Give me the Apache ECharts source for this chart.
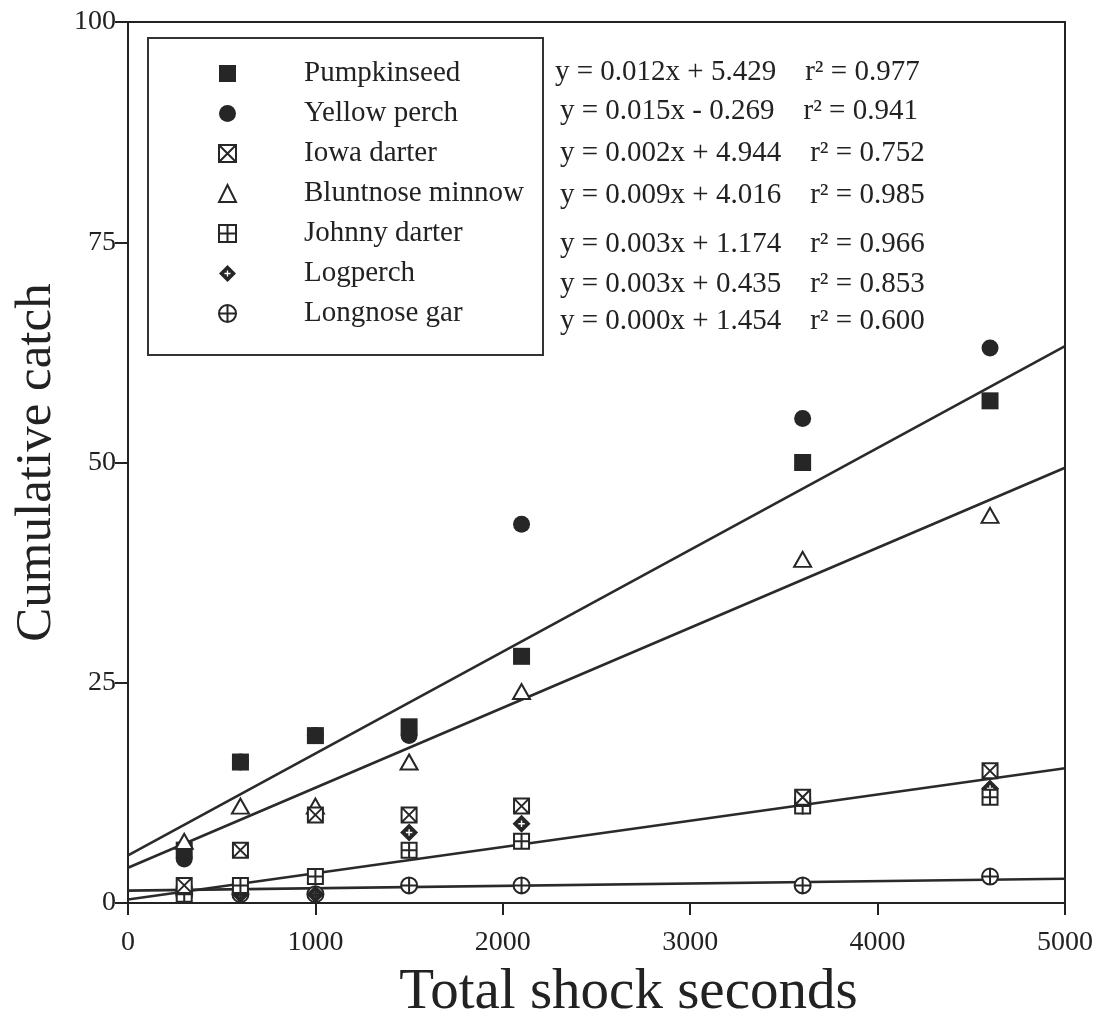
<!DOCTYPE html>
<html>
<head>
<meta charset="utf-8">
<title>Cumulative catch vs total shock seconds</title>
<script src="https://cdn.jsdelivr.net/npm/echarts@6/dist/echarts.min.js"></script>
<style>
  html, body { margin: 0; padding: 0; background: #fff; }
  #chart { width: 1102px; height: 1036px; }
</style>
</head>
<body>
<div id="chart"></div>
<script>
// sampling points (total shock seconds)
const shockSeconds = [300, 600, 1000, 1500, 2100, 3600, 4600];

// cumulative catch per species
const pumpkinseed = [6, 16, 19, 20, 28, 50, 57];
const yellowPerch = [5, 16, 19, 19, 43, 55, 63];
const iowaDarter = [2, 6, 10, 10, 11, 12, 15];
const bluntnoseMinnow = [7, 11, 11, 16, 24, 39, 44];
const johnnyDarter = [1, 2, 3, 6, 7, 11, 12];
const logperch = [1, 1, 1, 8, 9, 11, 13];
const longnoseGar = [1, 1, 1, 2, 2, 2, 3];

const speciesNames = ['Pumpkinseed', 'Yellow perch', 'Iowa darter', 'Bluntnose minnow',
  'Johnny darter', 'Logperch', 'Longnose gar'];

// regression lines drawn on the plot (value at x = 0 and at x = 5000)
const fitStart = [5.4, 4.0, 0.4, 1.4];
const fitEnd = [63.2, 49.4, 15.3, 2.75];
const fitRange = [0, 5000];

const fitLabels = [
  'y = 0.012x + 5.429    r² = 0.977',
  'y = 0.015x - 0.269    r² = 0.941',
  'y = 0.002x + 4.944    r² = 0.752',
  'y = 0.009x + 4.016    r² = 0.985',
  'y = 0.003x + 1.174    r² = 0.966',
  'y = 0.003x + 0.435    r² = 0.853',
  'y = 0.000x + 1.454    r² = 0.600'
];

const xTicks = { min: 0, max: 5000, interval: 1000 };
const yTicks = { min: 0, max: 100, interval: 25 };

const FONT = '"Liberation Serif", "DejaVu Serif", serif';
const INK = '#262626';

const symbols = {
  square: 'path://M0 0L10 0L10 10L0 10Z',
  boxX: 'path://M0 0L10 0L10 10L0 10Z M0 0L10 10 M10 0L0 10',
  boxPlus: 'path://M0 0L10 0L10 10L0 10Z M5 0L5 10 M0 5L10 5',
  circlePlus: 'path://M0 5A5 5 0 1 1 10 5A5 5 0 1 1 0 5Z M5 0L5 10 M0 5L10 5',
  diamondPlus: 'path://M5 0L10 5L5 10L0 5Z M4.6 3.2L4.6 4.6L3.2 4.6L3.2 5.4L4.6 5.4L4.6 6.8L5.4 6.8L5.4 5.4L6.8 5.4L6.8 4.6L5.4 4.6L5.4 3.2Z'
};

const pairs = (ys) => shockSeconds.map((x, i) => [x, ys[i]]);

const solid = { color: INK, borderColor: INK, borderWidth: 0, opacity: 1 };
const hollow = { color: '#fff', borderColor: INK, borderWidth: 2, opacity: 1 };

const chart = echarts.init(document.getElementById('chart'));

const lineSeries = fitStart.map((a, i) => ({
  name: 'fit' + i,
  type: 'line',
  data: [[fitRange[0], a], [fitRange[1], fitEnd[i]]],
  symbol: 'none',
  silent: true,
  z: 1,
  lineStyle: { color: '#2a2a2a', width: 2.6 }
}));

const scatterSeries = [
  { name: 'Yellow perch', data: yellowPerch, symbol: 'circle', symbolSize: 17, itemStyle: solid },
  { name: 'Pumpkinseed', data: pumpkinseed, symbol: symbols.square, symbolSize: 17, itemStyle: solid },
  { name: 'Bluntnose minnow', data: bluntnoseMinnow, symbol: 'triangle', symbolSize: [17, 15], itemStyle: hollow },
  { name: 'Longnose gar', data: longnoseGar, symbol: symbols.circlePlus, symbolSize: 16, itemStyle: hollow },
  { name: 'Logperch', data: logperch, symbol: symbols.diamondPlus, symbolSize: 18, itemStyle: solid },
  { name: 'Johnny darter', data: johnnyDarter, symbol: symbols.boxPlus, symbolSize: 15, itemStyle: hollow },
  { name: 'Iowa darter', data: iowaDarter, symbol: symbols.boxX, symbolSize: 15, itemStyle: hollow }
].map(s => ({
  name: s.name,
  type: 'scatter',
  data: pairs(s.data),
  symbol: s.symbol,
  symbolSize: s.symbolSize,
  itemStyle: s.itemStyle,
  z: 3
}));

const option = {
  animation: false,
  backgroundColor: '#fff',
  grid: {
    left: 128, right: 37, top: 22, bottom: 133,
    show: true, borderColor: '#222', borderWidth: 2
  },
  legend: {
    orient: 'vertical',
    left: 213,
    top: 54,
    itemWidth: 17,
    itemHeight: 17,
    itemGap: 11,
    selectedMode: false,
    data: speciesNames,
    formatter: '{t|{name}}',
    textStyle: {
      rich: { t: { fontFamily: FONT, fontSize: 29, color: '#222', lineHeight: 30, padding: [0, 0, 0, 63] } }
    }
  },
  xAxis: {
    type: 'value',
    min: xTicks.min, max: xTicks.max, interval: xTicks.interval,
    name: 'Total shock seconds',
    nameLocation: 'middle',
    nameGap: 62,
    nameTextStyle: { fontFamily: FONT, fontSize: 57, color: '#222', padding: [0, 0, 0, 64] },
    axisLine: { lineStyle: { color: '#222', width: 2 } },
    axisTick: { inside: false, length: 12, lineStyle: { color: '#222', width: 2 } },
    axisLabel: { margin: 26, fontFamily: FONT, fontSize: 28, color: '#222', formatter: (v) => String(v) },
    splitLine: { show: false }
  },
  yAxis: {
    type: 'value',
    min: yTicks.min, max: yTicks.max, interval: yTicks.interval,
    name: 'Cumulative catch',
    nameLocation: 'middle',
    nameGap: 66,
    nameTextStyle: { fontFamily: FONT, fontSize: 51, color: '#222' },
    axisLine: { lineStyle: { color: '#222', width: 2 } },
    axisTick: { inside: false, length: 13, lineStyle: { color: '#222', width: 2 } },
    axisLabel: { margin: 12, fontFamily: FONT, fontSize: 28, color: '#222' },
    splitLine: { show: false }
  },
  graphic: [
    {
      type: 'rect',
      shape: { x: 148, y: 38, width: 395, height: 317 },
      style: { fill: 'none', stroke: '#333', lineWidth: 2 },
      z: 10
    },
    ...fitLabels.map((txt, i) => ({
      type: 'text',
      left: i === 0 ? 555 : 560,
      top: [58, 97, 139, 181, 230, 270, 307][i],
      style: { text: txt, fontFamily: FONT, fontSize: 29, fill: '#222' },
      z: 10
    }))
  ],
  series: [...lineSeries, ...scatterSeries]
};

chart.setOption(option);
window.addEventListener('resize', () => chart.resize());
</script>
</body>
</html>
